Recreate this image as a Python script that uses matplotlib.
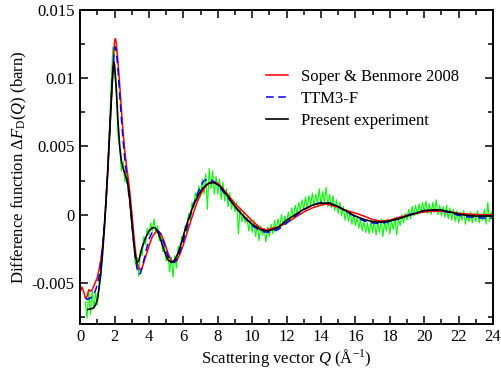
import numpy as np
import matplotlib
matplotlib.use("Agg")
import matplotlib.pyplot as plt
from matplotlib.ticker import MultipleLocator

plt.rcParams['font.family'] = ['Liberation Serif', 'DejaVu Serif']
plt.rcParams['mathtext.fontset'] = 'custom'
plt.rcParams['mathtext.rm'] = 'Liberation Serif'
plt.rcParams['mathtext.it'] = 'Liberation Serif:italic'

# values in units of 1e-3 barn
# Soper & Benmore 2008
q_red = [0.0, 0.1, 0.2, 0.3, 0.4, 0.5, 0.6, 0.7, 0.8, 0.9, 1.0, 1.1, 1.2, 1.3, 1.4,
         1.5, 1.6, 1.7, 1.8, 1.9, 2.0, 2.05, 2.1, 2.2, 2.3, 2.4, 2.5, 2.6, 2.7, 2.8,
         2.9, 3.0, 3.1, 3.2, 3.3, 3.4, 3.5, 3.6, 3.8, 4.0, 4.2, 4.4, 4.55, 4.7, 4.9,
         5.1, 5.3, 5.45, 5.6, 5.8, 6.0, 6.2, 6.4, 6.6, 6.8, 7.0, 7.2, 7.4, 7.6, 7.8,
         8.0, 8.2, 8.5, 9.0, 9.5, 10.0, 10.5, 10.8, 11.5, 12.0, 12.5, 13.0, 13.5,
         14.0, 14.3, 15.0, 15.5, 16.0, 16.5, 17.0, 17.5, 18.0, 18.5, 19.0, 19.5,
         20.0, 20.5, 21.0, 21.5, 22.0, 22.5, 23.0, 23.5, 24.0]
f_red = [-5.7, -5.3, -5.6, -6.1, -6.0, -5.5, -5.6, -5.5, -5.2, -4.9, -4.6, -4.0, -3.3, -2.3, -0.9,
         0.9, 3.0, 5.4, 8.0, 10.6, 12.7, 12.9, 12.6, 11.2, 9.5, 7.7, 6.0, 4.6, 3.5, 2.6,
         1.5, 0.2, -1.2, -2.5, -3.4, -3.9, -4.05, -3.9, -3.1, -2.3, -1.6, -1.25, -1.2, -1.4, -2.0,
         -2.8, -3.4, -3.5, -3.4, -2.9, -2.2, -1.4, -0.6, 0.2, 0.9, 1.5, 1.9, 2.25, 2.4, 2.4,
         2.3, 2.05, 1.6, 0.8, 0.2, -0.45, -1.0, -1.1, -0.9, -0.6, -0.2, 0.2, 0.5,
         0.7, 0.78, 0.55, 0.3, 0.12, -0.1, -0.35, -0.47, -0.4, -0.2, -0.05, 0.1,
         0.2, 0.25, 0.25, 0.2, 0.1, 0.05, 0.02, 0.0, 0.0]

# TTM3-F
q_blue = [0.3, 0.4, 0.5, 0.6, 0.7, 0.8, 0.9, 1.0, 1.1, 1.2, 1.3, 1.4, 1.5, 1.6, 1.7,
          1.8, 1.9, 2.0, 2.05, 2.1, 2.2, 2.3, 2.4, 2.5, 2.6, 2.7, 2.8, 2.9, 3.0, 3.1,
          3.2, 3.3, 3.4, 3.5, 3.6, 3.8, 4.0, 4.2, 4.4, 4.55, 4.7, 4.9, 5.1, 5.3, 5.45,
          5.6, 5.8, 6.0, 6.2, 6.4, 6.6, 6.8, 7.0, 7.2, 7.4, 7.6, 7.8, 8.0, 8.2, 8.5,
          9.0, 9.5, 10.0, 10.5, 10.9, 11.5, 12.0, 12.5, 13.0, 13.5, 14.0, 14.5, 15.0,
          15.5, 16.0, 16.5, 17.0, 17.5, 18.0, 18.5, 19.0, 19.5, 20.0, 20.5, 21.0,
          21.5, 22.0, 22.5, 23.0, 23.5, 24.0]
f_blue = [-6.1, -6.2, -6.15, -6.1, -6.0, -5.8, -5.5, -5.1, -4.5, -3.6, -2.4, -0.9, 1.0, 3.2, 5.7,
          8.3, 10.7, 12.2, 12.3, 12.0, 10.6, 8.8, 7.0, 5.4, 4.0, 2.9, 1.9, 0.8, -0.5, -1.9,
          -3.1, -3.9, -4.35, -4.3, -3.9, -2.8, -1.8, -1.25, -1.1, -1.2, -1.5, -2.2, -3.0, -3.45, -3.5,
          -3.3, -2.7, -1.9, -1.0, -0.1, 0.8, 1.5, 2.1, 2.5, 2.6, 2.55, 2.4, 2.15, 1.85, 1.4,
          0.6, -0.15, -0.8, -1.2, -1.3, -1.1, -0.6, -0.1, 0.35, 0.7, 0.9, 0.85, 0.6,
          0.2, -0.15, -0.45, -0.6, -0.65, -0.5, -0.3, -0.05, 0.15, 0.3, 0.35, 0.3,
          0.15, -0.05, -0.15, -0.2, -0.25, -0.25]

# Present experiment (smoothed)
q_black = [0.45, 0.6, 0.7, 0.8, 0.9, 1.0, 1.1, 1.2, 1.3, 1.4, 1.5, 1.6, 1.7, 1.8, 1.9,
           1.95, 2.0, 2.1, 2.2, 2.3, 2.4, 2.5, 2.6, 2.7, 2.8, 2.9, 3.0, 3.1, 3.2, 3.3,
           3.4, 3.5, 3.6, 3.8, 4.0, 4.2, 4.35, 4.5, 4.7, 4.9, 5.1, 5.3, 5.5, 5.7, 5.9,
           6.1, 6.3, 6.5, 6.7, 6.9, 7.1, 7.3, 7.5, 7.7, 7.9, 8.2, 8.5, 9.0, 9.5, 10.0,
           10.5, 10.9, 11.5, 12.0, 12.5, 13.0, 13.5, 14.0, 14.5, 15.0, 15.5, 16.0, 16.5,
           17.0, 17.5, 18.0, 18.5, 19.0, 19.5, 20.0, 20.5, 21.0, 21.5, 22.0, 22.5, 23.0,
           23.5, 24.0]
f_black = [-6.95, -6.9, -6.88, -6.8, -6.6, -6.2, -5.4, -4.3, -2.9, -1.1, 0.9, 3.2, 5.7, 8.2, 10.4,
           11.2, 11.0, 9.3, 6.8, 5.0, 3.9, 3.4, 3.0, 2.6, 2.0, 0.9, -0.5, -1.9, -3.0, -3.5,
           -3.4, -2.9, -2.4, -1.7, -1.2, -0.95, -0.95, -1.2, -1.9, -2.7, -3.3, -3.5, -3.3, -2.8, -2.0,
           -1.1, -0.3, 0.4, 1.0, 1.5, 1.9, 2.15, 2.3, 2.35, 2.3, 2.0, 1.5, 0.6, -0.1, -0.7,
           -1.1, -1.2, -0.95, -0.4, 0.0, 0.4, 0.7, 0.85, 0.85, 0.6, 0.25, -0.1, -0.35,
           -0.5, -0.55, -0.45, -0.3, -0.1, 0.1, 0.3, 0.35, 0.35, 0.2, 0.05, -0.05, -0.1,
           -0.1, -0.1]

# Present experiment (raw data), Q = 0.3 ... 24.0 in steps of 0.1
q_green = np.round(np.arange(3, 241) / 10.0, 1)
f_green = [
    -6.4, -7.6, -5.6, -7.3, -5.5, -6.9, -5.7,
    -6.6, -5.0, -4.5, -2.6, -1.4, 1.2, 3.0, 6.2, 9.5, 12.3,
    10.5, 8.8, 5.8, 4.9, 3.2, 3.9, 2.4, 3.1, 1.5, 1.3,
    -0.9, -1.5, -3.6, -3.1, -4.5, -2.6, -3.0, -1.6, -2.2, -1.0,
    -1.5, -0.6, -1.2, -0.3, -1.4, -0.8, -1.9, -1.5, -2.7, -2.3,
    -3.4, -2.9, -4.2, -3.1, -4.6, -3.0, -3.9, -2.3, -2.9, -1.6,
    -2.0, -0.8, -1.3, 0.1, -0.5, 0.9, 0.5, 1.6, 0.9, 2.1,
    1.3, 2.6, 1.5, 3.0, 0.4, 3.4, 1.9, 3.2, 1.5, 2.8,
    1.5, 2.6, 1.1, 2.4, 1.0, 1.9, 0.6, 1.6, 0.4, 1.1,
    0.2, 0.9, -1.4, 0.5, -0.5, 0.1, -0.6, -0.2, -1.2, -0.3,
    -1.3, -0.4, -1.6, -0.7, -1.9, -0.8, -1.5, -1.0, -2.0, -0.9,
    -1.6, -0.7, -1.4, -0.4, -1.2, -0.3, -1.0, 0.0, -0.8, -0.1,
    -0.7, 0.2, -0.5, 0.5, -0.2, 0.7, 0.1, 0.9, 0.3, 1.1,
    0.4, 1.3, 0.5, 1.4, 0.7, 1.6, 0.6, 1.5, 0.8, 1.9,
    0.7, 1.7, 0.9, 2.0, 0.6, 1.5, 0.5, 1.4, 0.3, 1.1,
    0.1, 0.9, -0.1, 0.6, -0.4, 0.4, -0.5, 0.2, -0.7, 0.0,
    -0.8, -0.2, -1.0, -0.3, -1.2, -0.5, -1.3, -0.6, -1.4, -0.5,
    -1.3, -0.4, -1.5, -0.6, -1.3, -0.3, -1.6, -0.5, -1.2, -0.3,
    -1.4, -0.4, -1.1, -0.2, -1.5, -0.3, -0.8, 0.0, -0.6, 0.1,
    -0.4, 0.4, -0.3, 0.6, -0.1, 0.7, 0.0, 0.8, 0.1, 0.9,
    0.2, 1.0, 0.1, 0.8, 0.0, 0.9, 0.2, 1.1, 0.0, 0.7,
    -0.1, 0.6, -0.2, 0.7, -0.3, 0.5, -0.4, 0.4, -0.5, 0.3,
    -0.6, 0.2, -0.4, 0.3, -0.7, 0.1, -0.5, 0.2, -0.6, 0.1,
    -0.5, 0.3, -0.6, 0.0, -0.4, 0.4, -0.7, 0.9, -0.5, 0.2,
    -0.3]

scale = 1e-3

fig = plt.figure(figsize=(5.01, 3.71), dpi=100)
ax = fig.add_axes([0.16, 0.127, 0.824, 0.846])

ax.plot(q_green, np.array(f_green) * scale, color='#00ff00', lw=0.8)
ax.plot(q_red, np.array(f_red) * scale, color='#ff0000', lw=1.1, label='Soper & Benmore 2008')
ax.plot(q_blue, np.array(f_blue) * scale, color='#0000ff', lw=1.1, ls=(0, (5, 3)), label='TTM3-F')
ax.plot(q_black, np.array(f_black) * scale, color='black', lw=1.2, label='Present experiment')

ax.set_xlim(0, 24)
ax.set_ylim(-0.008, 0.015)
ax.xaxis.set_major_locator(MultipleLocator(2))
ax.xaxis.set_minor_locator(MultipleLocator(1))
ax.yaxis.set_major_locator(MultipleLocator(0.005))
ax.yaxis.set_minor_locator(MultipleLocator(0.0025))
ax.set_yticks([-0.005, 0, 0.005, 0.01, 0.015])
ax.set_yticklabels(['-0.005', '0', '0.005', '0.01', '0.015'])
ax.tick_params(which='both', direction='in', top=True, right=True, labelsize=12, width=1.1)
ax.tick_params(which='major', length=6, pad=4)
ax.tick_params(which='minor', length=3.5)
for s in ax.spines.values():
    s.set_linewidth(1.4)

ax.set_xlabel(r'Scattering vector $Q$ (Å$^{-1}$)', fontsize=12, labelpad=1)
ax.set_ylabel(r'Difference function $\Delta F_{\mathrm{D}}(Q)$ (barn)', fontsize=12, labelpad=2)

ax.legend(loc='upper left', bbox_to_anchor=(0.450, 0.813), frameon=False, fontsize=12,
          borderpad=0, borderaxespad=0, handlelength=1.35, handletextpad=0.75, labelspacing=0.36)

fig.savefig('out.png', dpi=100)
